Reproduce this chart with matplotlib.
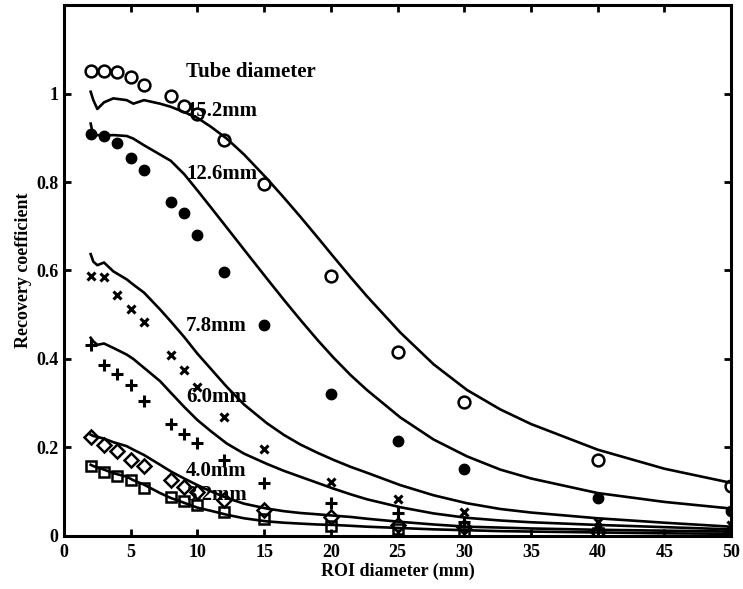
import matplotlib
matplotlib.use("Agg")
import matplotlib.pyplot as plt

plt.rcParams['font.family'] = ['Liberation Serif', 'DejaVu Serif']
plt.rcParams['font.weight'] = 'bold'

# measured points (ROI diameter in mm)
roi = [2, 3, 4, 5, 6, 8, 9, 10, 12, 15, 20, 25, 30, 40, 50]

rc_152 = [1.051, 1.051, 1.048, 1.038, 1.019, 0.994, 0.971, 0.953, 0.896, 0.796, 0.588, 0.415, 0.302, 0.172, 0.112]
rc_126 = [0.909, 0.905, 0.889, 0.854, 0.826, 0.754, 0.730, 0.680, 0.597, 0.476, 0.320, 0.214, 0.151, 0.085, 0.057]
rc_78 = [0.588, 0.586, 0.544, 0.514, 0.484, 0.410, 0.376, 0.337, 0.269, 0.197, 0.121, 0.083, 0.055, 0.032, 0.025]
rc_60 = [0.432, 0.386, 0.367, 0.342, 0.305, 0.252, 0.231, 0.210, 0.172, 0.119, 0.074, 0.051, 0.032, 0.015, 0.012]
rc_40 = [0.224, 0.206, 0.191, 0.172, 0.159, 0.127, 0.110, 0.100, 0.082, 0.059, 0.042, 0.025, 0.020, 0.010, 0.008]
rc_32 = [0.159, 0.144, 0.136, 0.127, 0.108, 0.088, 0.080, 0.070, 0.054, 0.039, 0.023, 0.015, 0.010, 0.006, 0.004]

# simulated curves
cx = [2.0, 2.2, 2.5, 3.0, 3.7, 4.7, 5.2, 6.0, 7.2, 8.0, 9.0, 10.0, 11.0, 12.2, 13.5, 15.2, 16.5,
      17.7, 19.0, 20.2, 21.5, 22.7, 25.2, 27.7, 30.2, 32.7, 35.0, 40.0, 45.0, 50.0]

c_152 = [1.004, 0.985, 0.965, 0.980, 0.989, 0.985, 0.977, 0.985, 0.977, 0.970, 0.958, 0.945, 0.925, 0.898,
         0.862, 0.808, 0.764, 0.722, 0.675, 0.631, 0.584, 0.542, 0.460, 0.388, 0.330, 0.286, 0.253, 0.195, 0.152, 0.120]
c_126 = [0.932, 0.905, 0.906, 0.905, 0.906, 0.904, 0.898, 0.883, 0.862, 0.848, 0.818, 0.781, 0.743, 0.697,
         0.647, 0.582, 0.533, 0.489, 0.443, 0.403, 0.363, 0.330, 0.268, 0.218, 0.180, 0.150, 0.130, 0.097, 0.077, 0.062]
c_78 = [0.637, 0.620, 0.612, 0.618, 0.598, 0.580, 0.568, 0.550, 0.512, 0.485, 0.450, 0.412, 0.378, 0.337,
        0.297, 0.255, 0.228, 0.207, 0.188, 0.172, 0.156, 0.143, 0.115, 0.092, 0.074, 0.061, 0.053, 0.040, 0.030, 0.021]
c_60 = [0.448, 0.440, 0.432, 0.435, 0.425, 0.410, 0.400, 0.380, 0.350, 0.324, 0.292, 0.262, 0.237, 0.209,
        0.186, 0.163, 0.147, 0.134, 0.120, 0.107, 0.094, 0.083, 0.065, 0.051, 0.041, 0.035, 0.031, 0.025, 0.020, 0.015]
c_40 = [0.229, 0.226, 0.224, 0.220, 0.212, 0.203, 0.195, 0.183, 0.161, 0.146, 0.130, 0.115, 0.101, 0.086,
        0.073, 0.062, 0.056, 0.052, 0.049, 0.046, 0.043, 0.039, 0.032, 0.026, 0.021, 0.019, 0.017, 0.014, 0.012, 0.010]
c_32 = [0.161, 0.158, 0.155, 0.150, 0.142, 0.134, 0.126, 0.116, 0.097, 0.086, 0.075, 0.064, 0.057, 0.048,
        0.040, 0.033, 0.030, 0.028, 0.026, 0.025, 0.023, 0.021, 0.018, 0.015, 0.013, 0.011, 0.010, 0.008, 0.006, 0.005]

labels = ["15.2mm", "12.6mm", "7.8mm", "6.0mm", "4.0mm", "3.2mm"]
label_y = [0.961, 0.819, 0.474, 0.315, 0.147, 0.093]

xticks = [0, 5, 10, 15, 20, 25, 30, 35, 40, 45, 50]
yticks = [0, 0.2, 0.4, 0.6, 0.8, 1.0]
ytick_labels = ["0", "0.2", "0.4", "0.6", "0.8", "1"]

fig = plt.figure(figsize=(7.43, 5.89), dpi=100)
ax = fig.add_axes([0.0861, 0.090, 0.898, 0.9015])

lw = 1.9
for cy in [c_152, c_126, c_78, c_60, c_40, c_32]:
    ax.plot(cx, cy, color='black', lw=lw, zorder=2)

ax.plot(roi, rc_152, 'o', ms=8.5, mfc='none', mec='black', mew=1.8, zorder=3)
ax.plot(roi, rc_126, 'o', ms=7.5, mfc='black', mec='black', zorder=3)
ax.plot(roi, rc_78, 'x', ms=6, mec='black', mew=2.2, zorder=3)
ax.plot(roi, rc_60, '+', ms=9, mec='black', mew=2.2, zorder=3)
ax.plot(roi, rc_40, 'D', ms=7, mfc='none', mec='black', mew=1.8, zorder=3)
ax.plot(roi, rc_32, 's', ms=7, mfc='none', mec='black', mew=1.8, zorder=3)

ax.text(9.15, 1.048, "Tube diameter", fontsize=15, fontweight='bold', va='center', ha='left', zorder=1)
for lab, ly in zip(labels, label_y):
    ax.text(9.15, ly, lab, fontsize=15, fontweight='bold', va='center', ha='left', zorder=1)

ax.set_xlim(0, 50)
ax.set_ylim(0, 1.2)
ax.set_xticks(xticks)
ax.set_xticklabels([str(t) for t in xticks])
ax.set_yticks(yticks)
ax.set_yticklabels(ytick_labels)
ax.tick_params(direction='in', length=5, width=2, top=True, right=True, labelsize=13)
ax.tick_params(axis='x', pad=6)
ax.tick_params(axis='y', pad=4)
for t in ax.get_xticklabels() + ax.get_yticklabels():
    t.set_fontweight('bold')
for s in ax.spines.values():
    s.set_linewidth(2.2)

ax.set_xlabel("ROI diameter (mm)", fontsize=13, fontweight='bold', labelpad=1)
ax.set_ylabel("Recovery coefficient", fontsize=13, fontweight='bold', labelpad=3)

fig.savefig("out.png", dpi=100)
